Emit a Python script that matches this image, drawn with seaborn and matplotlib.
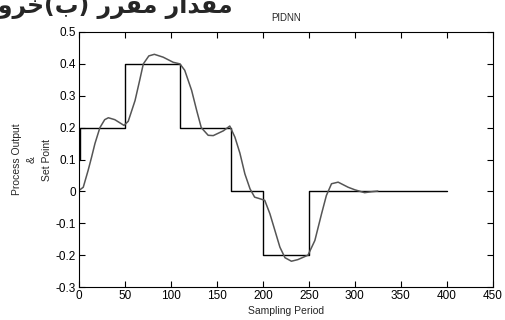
import matplotlib
matplotlib.use("Agg")
import matplotlib.pyplot as plt
import seaborn as sns
import pandas as pd

# Set point (corner points of the step signal)
sp_x = [1, 1, 50, 50, 110, 110, 165, 165, 200, 200, 250, 250, 400]
sp_y = [0.1, 0.2, 0.2, 0.4, 0.4, 0.2, 0.2, 0.0, 0.0, -0.2, -0.2, 0.0, 0.0]

# Process output
po_x = [1, 4.7, 10, 13.8, 17.4, 22.8, 28, 32, 39, 49, 53.6, 61, 66, 70, 76, 82,
        91.6, 102.5, 109.8, 115, 122.5, 128, 133, 140.5, 146, 157, 164,
        169.6, 175, 180.4, 186, 191, 196.7, 202, 207.6, 213, 218.5, 224, 231,
        238, 249, 256.5, 263.8, 269, 274.6, 281.8, 292.7, 300, 307, 310.6,
        318, 325]
po_y = [0.005, 0.013, 0.066, 0.108, 0.15, 0.2, 0.225, 0.231, 0.225, 0.207,
        0.22, 0.285, 0.348, 0.40, 0.425, 0.43, 0.421, 0.405, 0.40, 0.38,
        0.317, 0.254, 0.20, 0.176, 0.175, 0.19, 0.205, 0.17, 0.12, 0.055,
        0.008, -0.018, -0.023, -0.028, -0.07, -0.122, -0.175, -0.208, -0.219,
        -0.214, -0.20, -0.154, -0.07, -0.013, 0.024, 0.029, 0.013, 0.005,
        -0.001, -0.004, -0.001, 0.001]

x_ticks = [0, 50, 100, 150, 200, 250, 300, 350, 400, 450]
y_ticks = [-0.3, -0.2, -0.1, 0, 0.1, 0.2, 0.3, 0.4, 0.5]
y_tick_labels = ["-0.3", "-0.2", "-0.1", "0", "0.1", "0.2", "0.3", "0.4", "0.5"]

title = "PIDNN"
xlabel = "Sampling Period"
ylabel = "Process Output\n&\nSet Point"
# Persian caption (visual order, presentation forms): "مقدار مقرر (ب)خروجی"
caption = "\uFBFD\uFE9F\uFEED\uFEAE\uFEA7(\uFE8F) \uFEAD\uFEAE\uFED8\uFEE3 \uFEAD\uFE8D\uFEAA\uFED8\uFEE3"

sns.set_style("ticks")
plt.rcParams["font.family"] = ["Liberation Sans", "DejaVu Sans"]

fig = plt.figure(figsize=(5.06, 3.2), dpi=100)
ax = fig.add_axes([0.156, 0.103, 0.818, 0.797])

sp_df = pd.DataFrame({"x": sp_x, "y": sp_y})
po_df = pd.DataFrame({"x": po_x, "y": po_y})

sns.lineplot(data=sp_df, x="x", y="y", sort=False, estimator=None,
             color="black", linewidth=1.0, ax=ax)
sns.lineplot(data=po_df, x="x", y="y", sort=False, estimator=None,
             color="#555555", linewidth=1.1, ax=ax)

ax.set_xlim(0, 450)
ax.set_ylim(-0.3, 0.5)
ax.set_xticks(x_ticks)
ax.set_xticklabels([str(v) for v in x_ticks])
ax.set_yticks(y_ticks)
ax.set_yticklabels(y_tick_labels)
ax.tick_params(direction="in", top=True, right=True, length=4, width=0.8,
               labelsize=8.5, colors="black", pad=2)
for s in ax.spines.values():
    s.set_visible(True)
    s.set_linewidth(0.8)
    s.set_color("black")

ax.set_title(title, fontsize=7, pad=8)
ax.set_xlabel(xlabel, fontsize=7.5, labelpad=3)
ax.set_ylabel(ylabel, fontsize=7.5, linespacing=1.6)
ax.yaxis.set_label_coords(-0.066, 0.5)

fig.text(0.459, 0.958, caption, ha="right", va="baseline", fontsize=17,
         fontweight="bold", family=["DejaVu Sans"])

fig.savefig("out.png", dpi=100, facecolor="white")
